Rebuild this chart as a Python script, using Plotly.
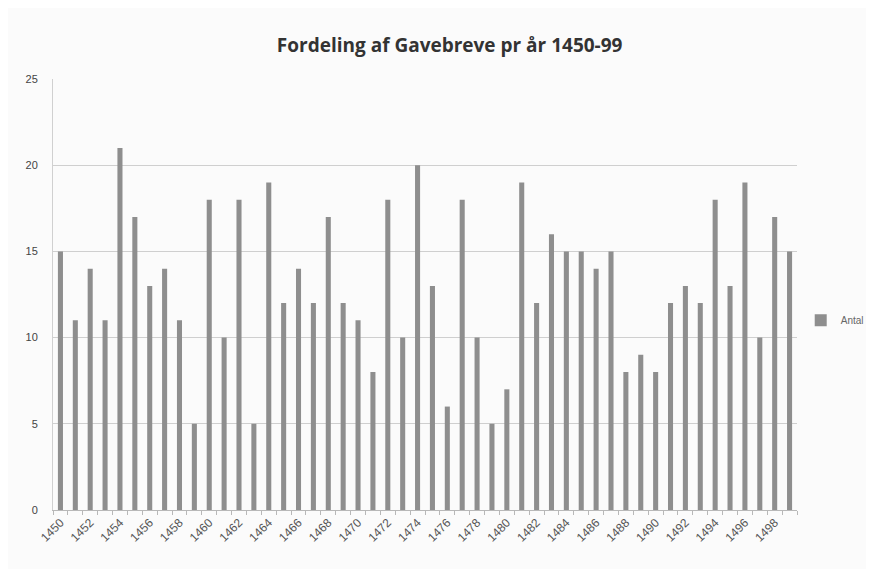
import plotly.graph_objects as go

years = [str(y) for y in range(1450, 1500)]
antal = [15, 11, 14, 11, 21, 17, 13, 14, 11, 5,
         18, 10, 18, 5, 19, 12, 14, 12, 17, 12,
         11, 8, 18, 10, 20, 13, 6, 18, 10, 5,
         7, 19, 12, 16, 15, 15, 14, 15, 8, 9,
         8, 12, 13, 12, 18, 13, 19, 10, 17, 15]
tick_labels = [y if i % 2 == 0 else "" for i, y in enumerate(years)]
y_ticks = [0, 5, 10, 15, 20, 25]

fig = go.Figure()
fig.add_trace(go.Bar(x=years, y=antal, name="Antal",
                     marker=dict(color="#8e8e8e", line=dict(width=0))))

fig.update_layout(
    width=866, height=561,
    paper_bgcolor="#fbfbfb", plot_bgcolor="#fbfbfb",
    margin=dict(l=45, r=77, t=71, b=59, autoexpand=False),
    title=dict(text="<b>Fordeling af Gavebreve pr år 1450-99</b>",
               x=0.51, xanchor="center", y=0.934, yanchor="middle",
               font=dict(family="Open Sans, Liberation Sans, sans-serif", size=19, color="#333")),
    bargap=0.66,
    showlegend=True,
    legend=dict(x=1.005, y=0.44, xanchor="left", yanchor="middle",
                font=dict(family="Liberation Sans, sans-serif", size=10, color="#666"),
                bgcolor="rgba(0,0,0,0)", itemwidth=30),
    font=dict(family="Liberation Sans, DejaVu Sans, sans-serif", size=11, color="#444"),
)
fig.update_xaxes(type="category", tickmode="array", tickvals=years, ticktext=tick_labels,
                 tickangle=-45, showgrid=False, showline=True, linecolor="#b8b8b8",
                 ticks="outside", tickson="boundaries", ticklen=4, tickcolor="#b8b8b8",
                 tickfont=dict(size=12, color="#555"), automargin=False)
fig.update_yaxes(range=[0, 25], tickvals=y_ticks, showgrid=True, gridcolor="#cfcfcf",
                 gridwidth=1, showline=True, linecolor="#d0d0d0", zeroline=False,
                 ticks="", tickfont=dict(size=11, color="#444"), ticklabelstandoff=12,
                 automargin=False)

fig.write_html("out.html")
